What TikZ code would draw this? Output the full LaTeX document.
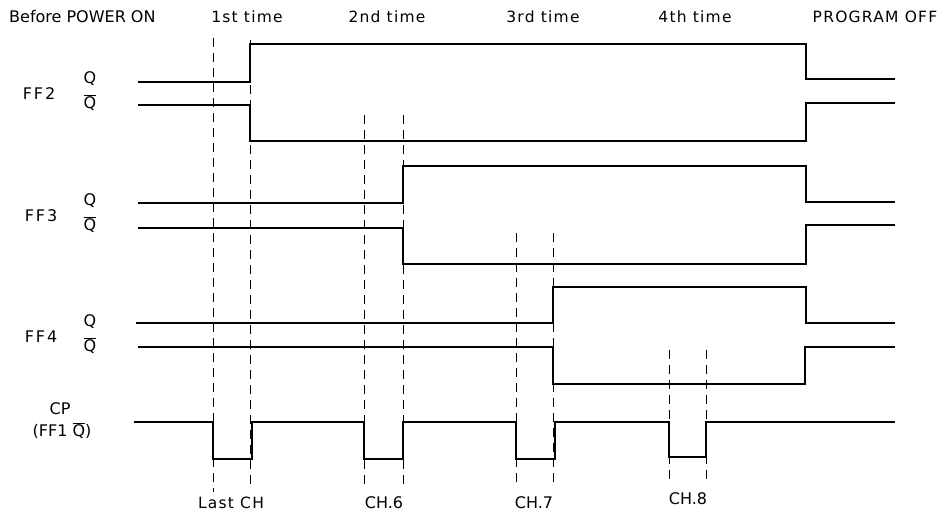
\documentclass[tikz,border=0pt]{standalone}
\usepackage{fontspec}
\setmainfont{DejaVu Sans}
\newfontfamily\spaced[LetterSpace=12]{DejaVu Sans}
\newfontfamily\lightspaced[LetterSpace=8]{DejaVu Sans}
\begin{document}
\begin{tikzpicture}[x=1pt,y=-1pt,
  sig/.style={line width=1.9pt,line join=miter},
  guide/.style={line width=0.9pt,dash pattern=on 9pt off 6pt},
  lbl/.style={inner sep=0pt,font=\fontsize{16}{16}\selectfont},
  wide/.style={inner sep=0pt,font=\spaced\fontsize{16}{16}\selectfont},
  small/.style={inner sep=0pt,font=\lightspaced\fontsize{15.5}{16}\selectfont}]
\useasboundingbox (0,0) rectangle (946,513);
\newcommand{\Qbar}{$\overline{\mbox{Q}}$}
% headings
\node[lbl,anchor=west] (h0) at (9,17) {Before POWER ON};
\node[small] (h1) at (247,17) {1st time};
\node[small] (h2) at (387,17) {2nd time};
\node[small] (h3) at (543,17) {3rd time};
\node[small] (h4) at (695,17) {4th time};
\node[small] (h5) at (875,17) {PROGRAM OFF};
% row labels
\node[wide] (ff2) at (39,94) {FF2};
\node[lbl] (ff2q) at (90,79) {Q};
\node[lbl] (ff2qb) at (90,103) {\Qbar};
\node[wide] (ff3) at (41,216) {FF3};
\node[lbl] (ff3q) at (90,201) {Q};
\node[lbl] (ff3qb) at (90,225) {\Qbar};
\node[wide] (ff4) at (41,337) {FF4};
\node[lbl] (ff4q) at (90,322) {Q};
\node[lbl] (ff4qb) at (90,346) {\Qbar};
\node[lbl] (cp) at (60,409) {CP};
\node[lbl] (cpsrc) at (62,431) {(FF1 \Qbar)};
% bottom labels
\node[small] (l1) at (231,503) {Last CH};
\node[lbl] (l2) at (384,503) {CH.6};
\node[lbl] (l3) at (534,503) {CH.7};
\node[lbl] (l4) at (688,499) {CH.8};
% dashed guides
\draw[guide] (213,38) -- (213,492);
\draw[guide] (250,40) -- (250,490);
\draw[guide] (364,115) -- (364,488);
\draw[guide] (403,115) -- (403,488);
\draw[guide] (516,233) -- (516,488);
\draw[guide] (553,233) -- (553,488);
\draw[guide] (669,350) -- (669,480);
\draw[guide] (706,350) -- (706,480);
% signals
\draw[sig] (138,82) -- (250,82) -- (250,44) -- (806,44) -- (806,79) -- (895,79);
\draw[sig] (138,105) -- (250,105) -- (250,141) -- (806,141) -- (806,103) -- (895,103);
\draw[sig] (138,203) -- (403,203) -- (403,166) -- (806,166) -- (806,202) -- (895,202);
\draw[sig] (138,228) -- (403,228) -- (403,264) -- (806,264) -- (806,225) -- (895,225);
\draw[sig] (136,323) -- (553,323) -- (553,287) -- (806,287) -- (806,323) -- (895,323);
\draw[sig] (138,347) -- (553,347) -- (553,384) -- (805,384) -- (805,347) -- (895,347);
\draw[sig] (134,422) -- (213,422) -- (213,459) -- (252,459) -- (252,422)
  -- (364,422) -- (364,459) -- (403,459) -- (403,422)
  -- (516,422) -- (516,459) -- (555,459) -- (555,422)
  -- (669,422) -- (669,457) -- (706,457) -- (706,422) -- (895,422);
\end{tikzpicture}
\end{document}
